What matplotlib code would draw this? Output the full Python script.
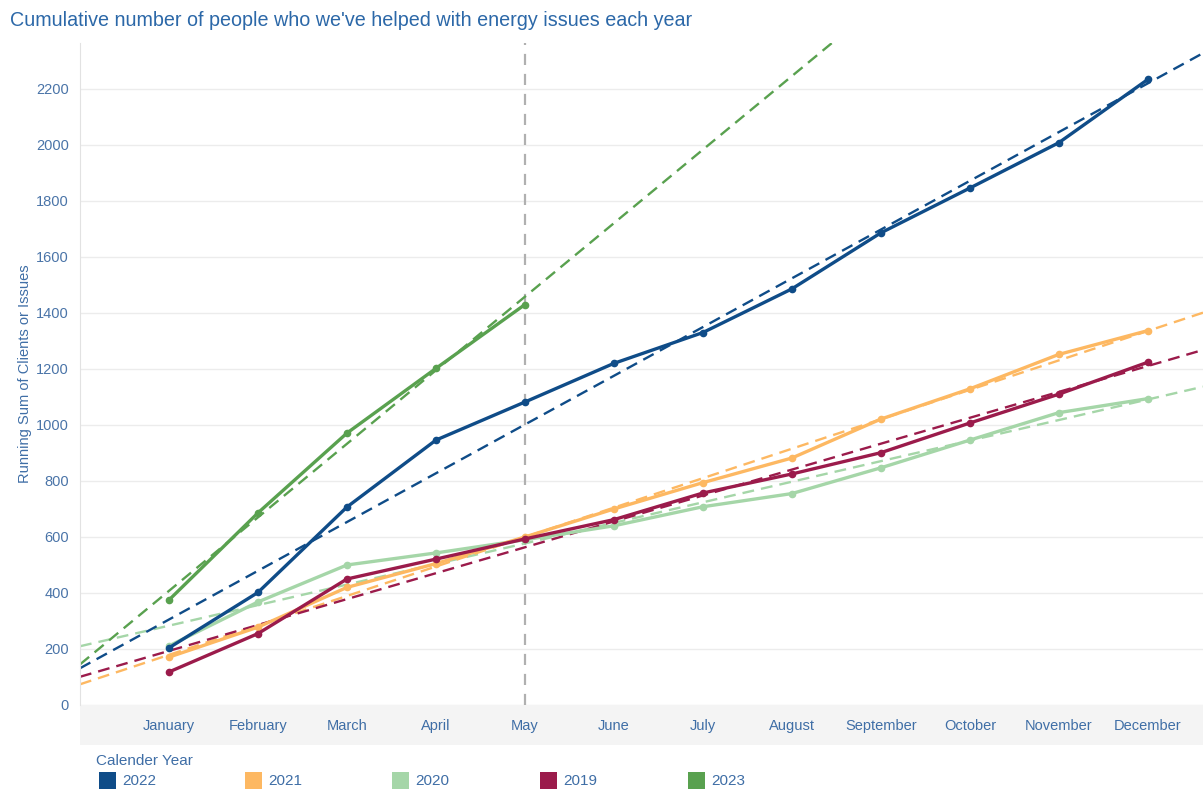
import numpy as np
import matplotlib
matplotlib.use("Agg")
import matplotlib.pyplot as plt
from matplotlib.patches import Rectangle

plt.rcParams['font.family'] = ['Liberation Sans', 'DejaVu Sans']

months = ["January", "February", "March", "April", "May", "June", "July",
          "August", "September", "October", "November", "December"]

years = ["2022", "2021", "2020", "2019", "2023"]
v2022 = [204, 402, 707, 946, 1082, 1220, 1330, 1486, 1686, 1846, 2008, 2234]
v2021 = [171, 278, 420, 505, 600, 700, 794, 882, 1021, 1129, 1252, 1337]
v2020 = [211, 368, 500, 543, 590, 640, 708, 755, 847, 946, 1044, 1094]
v2019 = [118, 255, 450, 521, 593, 662, 757, 825, 901, 1007, 1110, 1224]
v2023 = [375, 686, 971, 1202, 1430]

colors = {"2022": "#0f4c88", "2021": "#fdb862", "2020": "#a5d6a8",
          "2019": "#9b1b4b", "2023": "#59a14f"}
series = {"2022": v2022, "2021": v2021, "2020": v2020, "2019": v2019, "2023": v2023}

W, H = 1203, 789
fig = plt.figure(figsize=(W / 100, H / 100), dpi=100)
ax_l, ax_r, ax_t, ax_b = 80, 1203, 43, 705
ax = fig.add_axes([ax_l / W, 1 - ax_b / H, (ax_r - ax_l) / W, (ax_b - ax_t) / H])

xmin, xmax = -1.0, 11.62
ax.set_xlim(xmin, xmax)
ax.set_ylim(0, 2364)

# gray band behind month labels
fig.patches.append(Rectangle((ax_l / W, 1 - 745 / H), (ax_r - ax_l) / W, 40 / H,
                             transform=fig.transFigure, facecolor="#f4f4f4",
                             edgecolor="none", zorder=-5))

yt = list(range(0, 2201, 200))
ax.set_yticks(yt)
ax.set_yticklabels([str(v) for v in yt], color="#4a74a8", fontsize=10.5)
ax.yaxis.grid(True, color="#ececec", lw=1)
ax.set_axisbelow(True)
ax.tick_params(axis="y", length=0, pad=8)
ax.set_xticks(range(12))
ax.set_xticklabels(months, color="#3f6ea6", fontsize=10.5)
ax.tick_params(axis="x", length=0, pad=10)
for s in ["top", "right", "bottom"]:
    ax.spines[s].set_visible(False)
ax.spines["left"].set_color("#e2e2e2")
ax.patch.set_alpha(0)

ax.set_ylabel("Running Sum of Clients or Issues", color="#3f6ea6", fontsize=10.5)
ax.yaxis.set_label_coords(-0.043, 0.5)

# vertical reference line at May
ax.axvline(4, color="#b0b0b0", lw=1.6, dashes=(5, 4), zorder=1)

xx = np.array([xmin, xmax])
for yr in ["2020", "2021", "2019", "2022", "2023"]:
    vals = np.array(series[yr], dtype=float)
    xs = np.arange(len(vals))
    k, b = np.polyfit(xs, vals, 1)
    ax.plot(xx, k * xx + b, color=colors[yr], lw=1.7, dashes=(5, 3), zorder=2)
for yr in ["2020", "2021", "2019", "2022", "2023"]:
    vals = series[yr]
    xs = np.arange(len(vals))
    ax.plot(xs, vals, color=colors[yr], lw=2.4, marker="o", ms=4.5, zorder=3)

fig.text(10 / W, 1 - 21 / H, "Cumulative number of people who we've helped with energy issues each year",
         color="#2c68a8", fontsize=14.2, va="center", ha="left")

fig.text(96 / W, 1 - 761 / H, "Calender Year", color="#3f6ea6", fontsize=11, va="center")
leg_x = [99, 245, 392, 540, 688]
for yr, lx in zip(years, leg_x):
    fig.patches.append(Rectangle((lx / W, 1 - 789 / H), 17 / W, 17 / H,
                                 transform=fig.transFigure, facecolor=colors[yr],
                                 edgecolor="none"))
    fig.text((lx + 23) / W, 1 - 781 / H, yr, color="#3f6ea6", fontsize=11, va="center")

fig.savefig("out.png", dpi=100)
